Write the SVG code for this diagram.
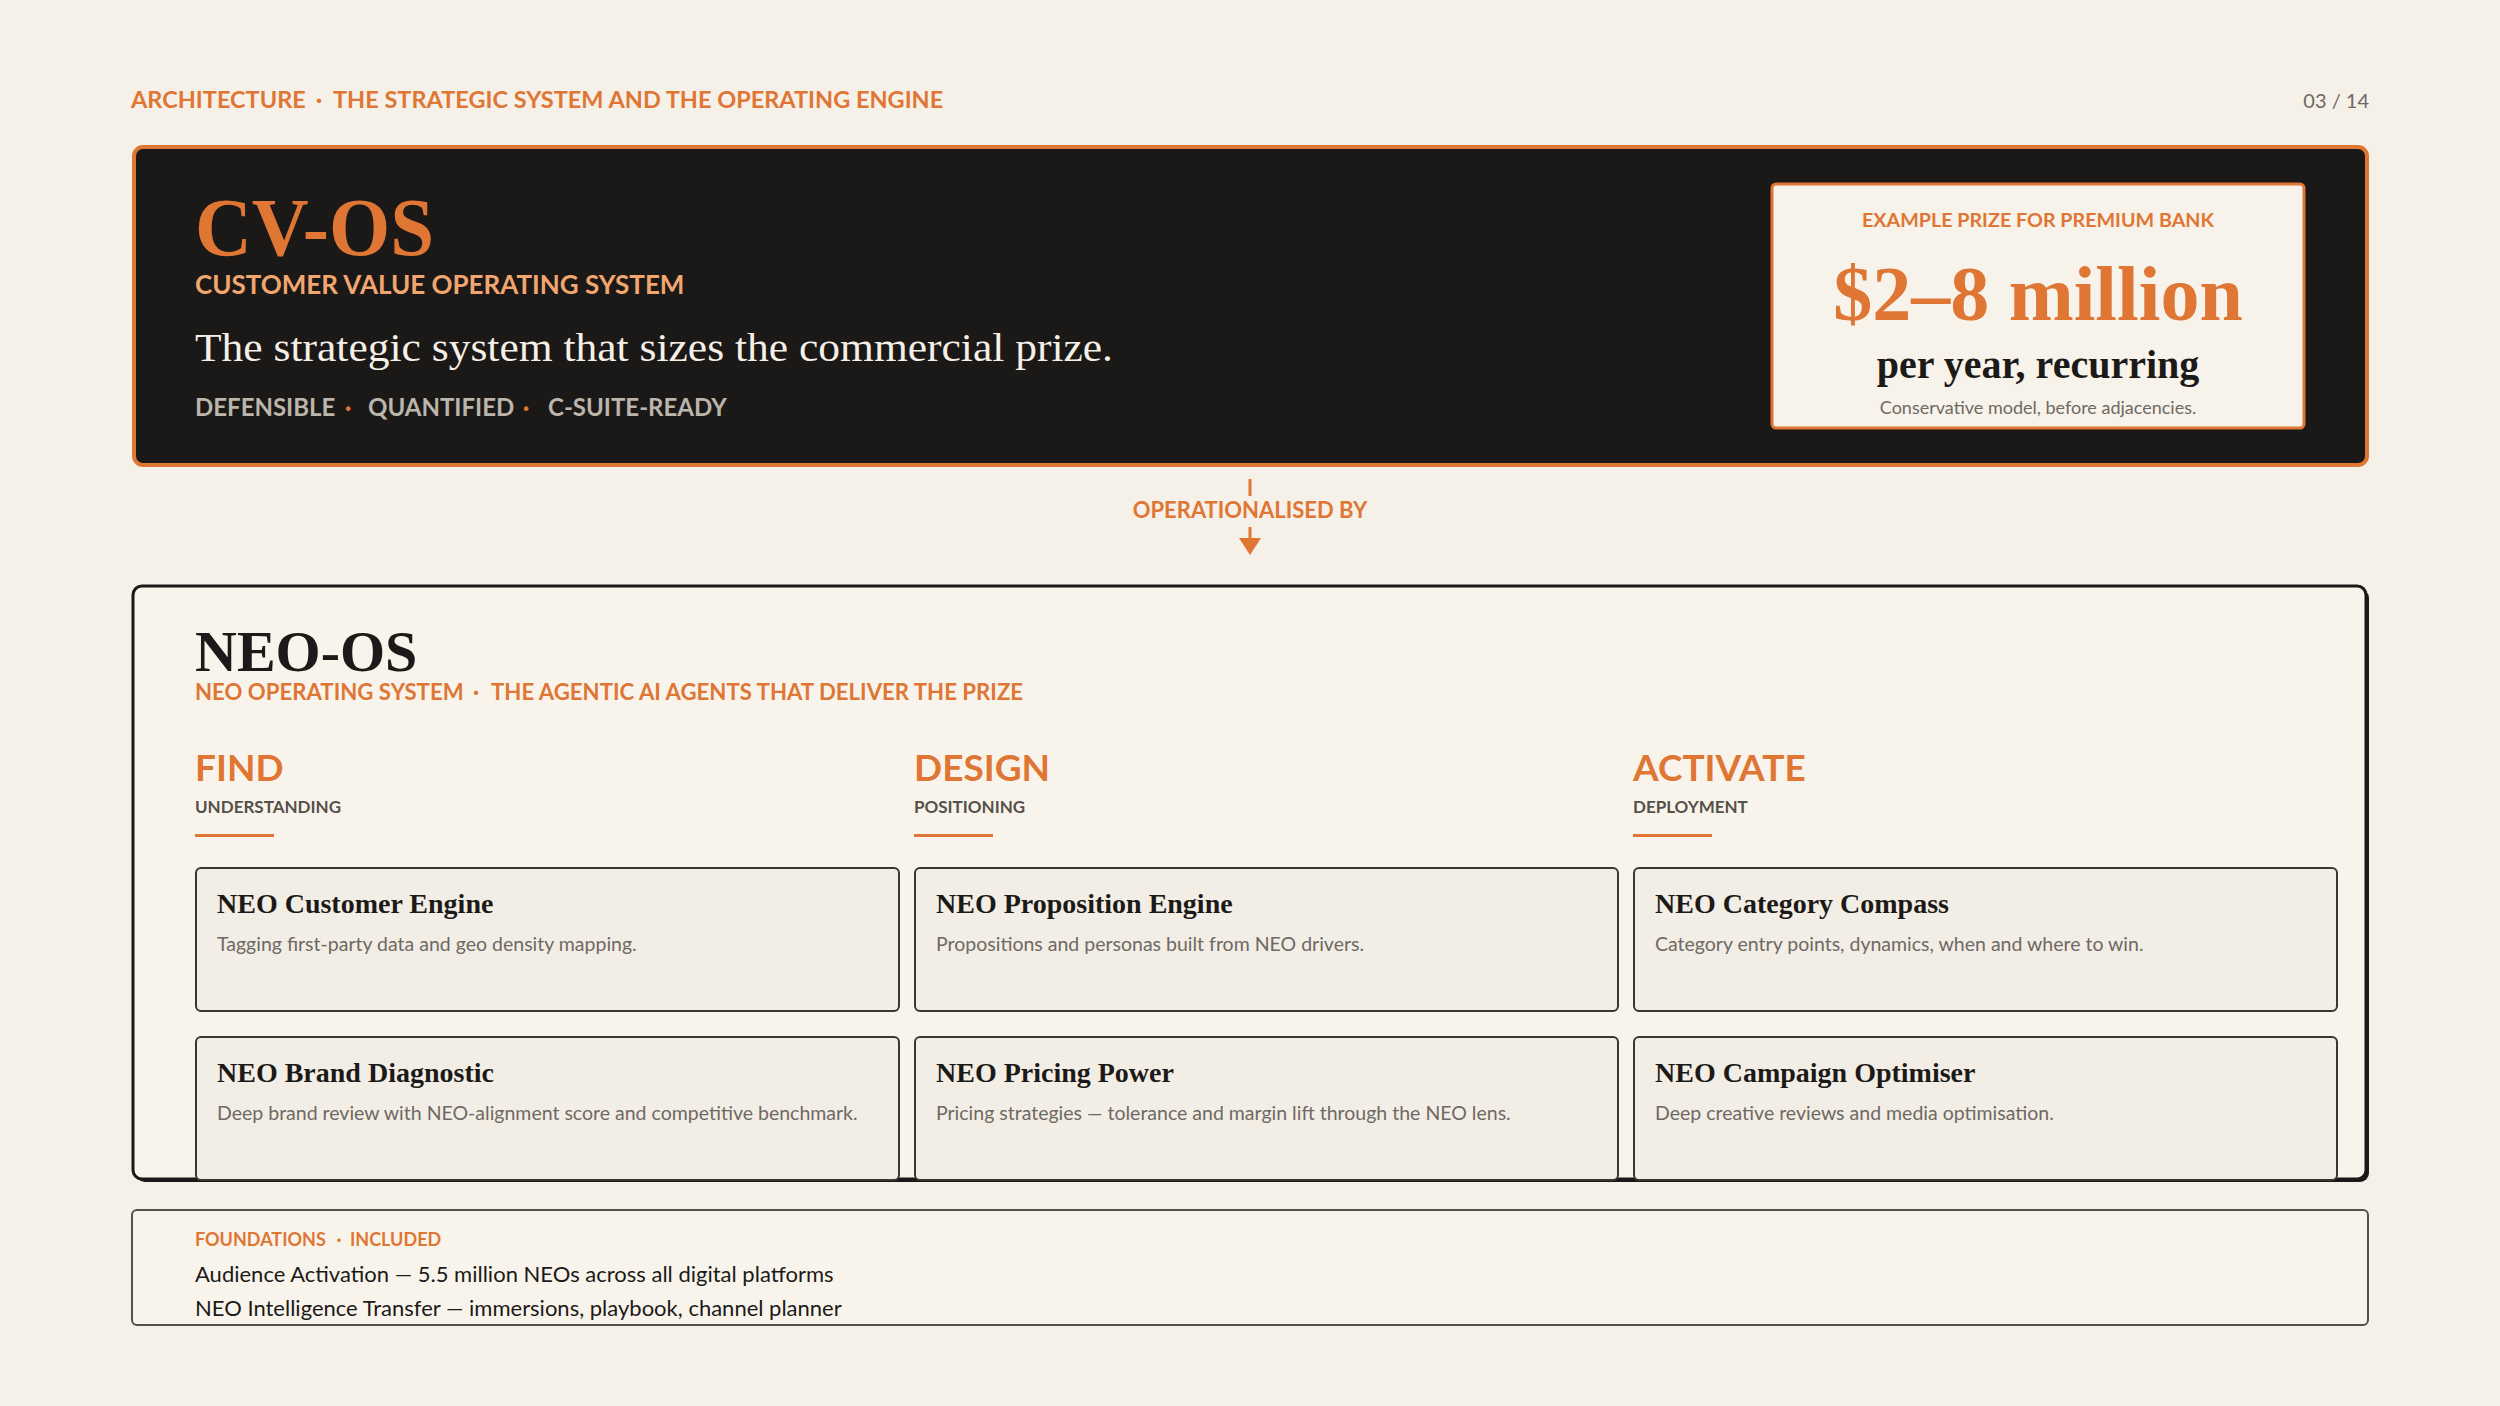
<svg xmlns="http://www.w3.org/2000/svg" width="2500" height="1406" viewBox="0 0 2500 1406">
<defs>
<style>
.sans{font-family:Lato,"Liberation Sans",sans-serif}
.serif{font-family:"Liberation Serif","DejaVu Serif",serif}
.kicker{font-family:Lato,"Liberation Sans",sans-serif;font-weight:700;fill:#df7634}
.card{fill:#f3eee5;stroke:#3a3632;stroke-width:2}
.ctitle{font-family:"Liberation Serif","DejaVu Serif",serif;font-weight:700;font-size:28px;fill:#1c1a18}
.cdesc{font-family:Lato,"Liberation Sans",sans-serif;font-size:19.5px;fill:#6e6964}
.colh{font-family:Lato,"Liberation Sans",sans-serif;font-weight:700;font-size:37px;fill:#df7634}
.colsub{font-family:Lato,"Liberation Sans",sans-serif;font-weight:700;font-size:17px;fill:#555049}
.rule{fill:#df7634}
</style>
</defs>
<rect width="2500" height="1406" fill="#f5f0e8"/>

<g id="header">
<text class="kicker" y="108" font-size="23.5"><tspan x="131">ARCHITECTURE</tspan><tspan x="319" text-anchor="middle">·</tspan><tspan x="333">THE STRATEGIC SYSTEM AND THE OPERATING ENGINE</tspan></text>
<text class="sans" x="2369" y="108" font-size="20" fill="#6e6964" text-anchor="end">03 / 14</text>
</g>

<g id="cvos">
<rect x="134" y="147" width="2233" height="318" rx="9" fill="#1b1917" stroke="#df7634" stroke-width="4"/>
<text class="serif" x="195" y="255" font-size="82" font-weight="700" fill="#df7634" textLength="239" lengthAdjust="spacingAndGlyphs">CV-OS</text>
<text class="sans" x="195" y="294" font-size="26" font-weight="700" fill="#f2a66f">CUSTOMER VALUE OPERATING SYSTEM</text>
<text class="serif" x="195" y="361" font-size="41" fill="#f5efe6" textLength="918" lengthAdjust="spacingAndGlyphs">The strategic system that sizes the commercial prize.</text>
<text class="sans" y="416" font-size="24" font-weight="700" fill="#bcb5ac"><tspan x="195">DEFENSIBLE</tspan><tspan x="348" fill="#df7634" text-anchor="middle">·</tspan><tspan x="368">QUANTIFIED</tspan><tspan x="526" fill="#df7634" text-anchor="middle">·</tspan><tspan x="548">C-SUITE-READY</tspan></text>
</g>

<g id="prize">
<rect x="1772" y="184" width="532" height="244" rx="4" fill="#f7f2ea" stroke="#df7634" stroke-width="3"/>
<text class="kicker" x="2038" y="227" font-size="19.7" text-anchor="middle">EXAMPLE PRIZE FOR PREMIUM BANK</text>
<text class="serif" x="2038" y="320" font-size="78" font-weight="700" fill="#df7634" text-anchor="middle">$2–8 million</text>
<text class="serif" x="2038" y="378" font-size="40" font-weight="700" fill="#1c1a18" text-anchor="middle">per year, recurring</text>
<text class="sans" x="2038" y="414" font-size="18" fill="#6e6964" text-anchor="middle">Conservative model, before adjacencies.</text>
</g>

<g id="connectors">
<line x1="1250" y1="479" x2="1250" y2="496" stroke="#df7634" stroke-width="3"/>
<line x1="1250" y1="527" x2="1250" y2="540" stroke="#df7634" stroke-width="3"/>
<polygon points="1239,538 1261,538 1250,555" fill="#df7634"/>
<text class="kicker" x="1250" y="518" font-size="22" text-anchor="middle">OPERATIONALISED BY</text>
</g>

<g id="neoos">
<rect x="136" y="589" width="2233" height="593" rx="9" fill="#1b1917"/>
<rect x="133" y="586" width="2233" height="593" rx="9" fill="#f8f4ec" stroke="#1b1917" stroke-width="3"/>
<text class="serif" x="195" y="671" font-size="58" font-weight="700" fill="#1c1a18">NEO-OS</text>
<text class="kicker" y="700" font-size="22.2"><tspan x="195">NEO OPERATING SYSTEM</tspan><tspan x="476" text-anchor="middle">·</tspan><tspan x="491">THE AGENTIC AI AGENTS THAT DELIVER THE PRIZE</tspan></text>
</g>

<g id="col-find">
<text class="colh" x="195" y="781">FIND</text>
<text class="colsub" x="195" y="813">UNDERSTANDING</text>
<rect class="rule" x="195" y="834" width="79" height="3"/>
</g>
<g id="col-design">
<text class="colh" x="914" y="781">DESIGN</text>
<text class="colsub" x="914" y="813">POSITIONING</text>
<rect class="rule" x="914" y="834" width="79" height="3"/>
</g>
<g id="col-activate">
<text class="colh" x="1633" y="781">ACTIVATE</text>
<text class="colsub" x="1633" y="813">DEPLOYMENT</text>
<rect class="rule" x="1633" y="834" width="79" height="3"/>
</g>

<g id="card-customer-engine">
<rect class="card" x="196" y="868" width="703" height="143" rx="5"/>
<text class="ctitle" x="217" y="913">NEO Customer Engine</text>
<text class="cdesc" x="217" y="951">Tagging first-party data and geo density mapping.</text>
</g>
<g id="card-proposition-engine">
<rect class="card" x="915" y="868" width="703" height="143" rx="5"/>
<text class="ctitle" x="936" y="913">NEO Proposition Engine</text>
<text class="cdesc" x="936" y="951">Propositions and personas built from NEO drivers.</text>
</g>
<g id="card-category-compass">
<rect class="card" x="1634" y="868" width="703" height="143" rx="5"/>
<text class="ctitle" x="1655" y="913">NEO Category Compass</text>
<text class="cdesc" x="1655" y="951">Category entry points, dynamics, when and where to win.</text>
</g>
<g id="card-brand-diagnostic">
<rect class="card" x="196" y="1037" width="703" height="143" rx="5"/>
<text class="ctitle" x="217" y="1082">NEO Brand Diagnostic</text>
<text class="cdesc" x="217" y="1120">Deep brand review with NEO-alignment score and competitive benchmark.</text>
</g>
<g id="card-pricing-power">
<rect class="card" x="915" y="1037" width="703" height="143" rx="5"/>
<text class="ctitle" x="936" y="1082">NEO Pricing Power</text>
<text class="cdesc" x="936" y="1120">Pricing strategies — tolerance and margin lift through the NEO lens.</text>
</g>
<g id="card-campaign-optimiser">
<rect class="card" x="1634" y="1037" width="703" height="143" rx="5"/>
<text class="ctitle" x="1655" y="1082">NEO Campaign Optimiser</text>
<text class="cdesc" x="1655" y="1120">Deep creative reviews and media optimisation.</text>
</g>

<g id="foundations">
<rect x="132" y="1210" width="2236" height="115" rx="5" fill="#f8f4ec" stroke="#55504a" stroke-width="2"/>
<text class="kicker" y="1246" font-size="18"><tspan x="195">FOUNDATIONS</tspan><tspan x="339" text-anchor="middle">·</tspan><tspan x="350">INCLUDED</tspan></text>
<text class="sans" x="195" y="1282" font-size="22" fill="#1c1a18">Audience Activation — 5.5 million NEOs across all digital platforms</text>
<text class="sans" x="195" y="1316" font-size="22" fill="#1c1a18">NEO Intelligence Transfer — immersions, playbook, channel planner</text>
</g>
</svg>
